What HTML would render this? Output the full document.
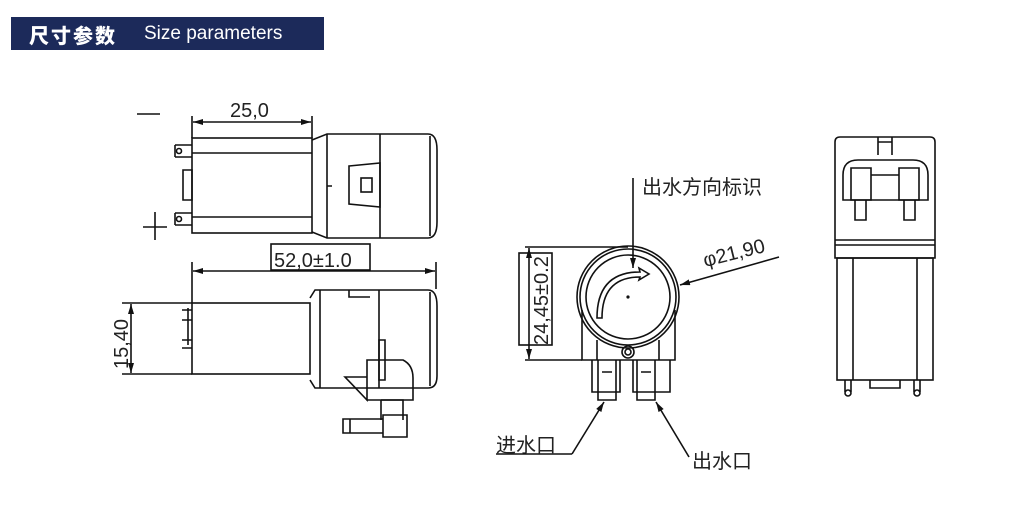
<!DOCTYPE html>
<html><head><meta charset="utf-8"><style>
body{margin:0;background:#fff;width:1027px;height:519px;overflow:hidden;position:relative;font-family:"Liberation Sans","Noto Sans CJK SC",sans-serif}
.hdr{position:absolute;left:11px;top:17px;width:313px;height:33px;background:#1c2a5a;color:#fff;}
.hdr b{position:absolute;left:18px;top:3px;font-size:20px;font-family:"Noto Sans CJK SC",sans-serif;font-weight:900;letter-spacing:2px}
.hdr span{position:absolute;left:133px;top:6px;font-size:19px}
svg{position:absolute;left:0;top:0}
</style></head><body>
<div class="hdr"><b>尺寸参数</b><span>Size parameters</span></div>
<svg width="1027" height="519" viewBox="0 0 1027 519" fill="none" stroke="#111" stroke-width="1.6">
<defs><marker id="a" viewBox="0 0 10 6" refX="10" refY="3" markerWidth="10" markerHeight="6" orient="auto-start-reverse" markerUnits="userSpaceOnUse"><path d="M0,0L10,3L0,6z" fill="#111" stroke="none"/></marker></defs>
<g font-family="Liberation Sans,sans-serif" font-size="20" fill="#222" stroke="none">
<text x="230" y="117">25,0</text>
<text x="274" y="267">52,0±1.0</text>
<text transform="translate(128,369) rotate(-90)">15,40</text>
<text transform="translate(548,345) rotate(-90)">24,45±0.2</text>
<text x="705" y="267" transform="rotate(-14 705 267)">φ21,90</text>
</g>
<g font-family="Noto Sans CJK SC,sans-serif" font-size="20" fill="#222" stroke="none">
<text x="642" y="194">出水方向标识</text>
<text x="496" y="452">进水口</text>
<text x="692" y="468">出水口</text>
</g>
<!-- top view -->
<path d="M137,114H160M155,212V240M143,227H167"/>
<line x1="192" y1="116" x2="192" y2="138"/><line x1="312" y1="116" x2="312" y2="138"/>
<line x1="193" y1="122" x2="311" y2="122" marker-start="url(#a)" marker-end="url(#a)"/>
<rect x="192" y="138" width="120" height="95"/>
<path d="M192,153H312M192,217H312"/>
<path d="M175,145H192M175,157H192M175,145V157M175,213H192M175,225H192M175,213V225M183,170H192V200H183z"/>
<circle cx="179" cy="151" r="2.5"/><circle cx="179" cy="219" r="2.5"/>
<path d="M312,140L327,134H428Q437,134 437,150V222Q437,238 428,238H327L312,232"/>
<path d="M327,134V238M380,134V238M430,136V236M327,186H332"/>
<path d="M349,166L380,163V207L349,204z"/><rect x="361" y="178" width="11" height="14"/>
<!-- side view -->
<line x1="192" y1="262" x2="192" y2="303"/><line x1="436" y1="262" x2="436" y2="289"/>
<rect x="271" y="244" width="99" height="26"/>
<line x1="193" y1="271" x2="435" y2="271" marker-start="url(#a)" marker-end="url(#a)"/>
<rect x="192" y="303" width="118" height="71"/>
<path d="M122,303H192M122,374H192"/>
<line x1="131" y1="304" x2="131" y2="373" marker-start="url(#a)" marker-end="url(#a)"/>
<path d="M182,310H192M182,320H192M182,340H192M182,348H192M188,308V345"/>
<path d="M310,298L315,290H428Q437,290 437,306V376Q437,388 428,388H315L310,380"/>
<path d="M320,290V388M379,290V388M430,292V386M349,290V297H370"/>
<path d="M367,360H403Q413,365 413,378V400H367z M379,340H385V380H379z M345,377L367,377L367,400z"/>
<path d="M381,400H403V420M381,400V420M383,415H407V437H383z M343,419H383V433H343z M350,419V433"/>
<!-- middle view -->
<circle cx="628" cy="297" r="51"/><circle cx="628" cy="297" r="48"/><circle cx="628" cy="297" r="42"/>
<path d="M582,310V360H675V310M597,340V360M659,340V360"/>
<circle cx="628" cy="352" r="6"/><circle cx="628" cy="352" r="3"/>
<path d="M592,360V392H620V360M598,360V400H616V360M637,360V400H655V360M633,360V392H670V360M602,372H612M641,372H651"/>
<path d="M597,318Q597,272 640,272L639,268L649,274L639,280L640,277Q602,277 602,318z"/>
<circle cx="628" cy="297" r="0.8" fill="#111"/>
<path d="M525,247H628M525,360H582"/>
<rect x="519" y="253" width="33" height="92"/>
<line x1="529" y1="248" x2="529" y2="359" marker-start="url(#a)" marker-end="url(#a)"/>
<line x1="633" y1="178" x2="633" y2="268" marker-end="url(#a)"/>
<line x1="779" y1="257" x2="680" y2="285" marker-end="url(#a)"/>
<path d="M496,454H572"/><line x1="572" y1="454" x2="604" y2="402" marker-end="url(#a)"/>
<line x1="689" y1="457" x2="656" y2="402" marker-end="url(#a)"/>
<!-- right view -->
<path d="M835,142Q835,137 840,137H930Q935,137 935,142V258H835z"/>
<path d="M835,240H935M835,245H935M878,137V155M892,137V155M878,142H892"/>
<path d="M843,175Q843,160 858,160H913Q928,160 928,175V200H843z"/>
<path d="M851,168H871V200H851zM899,168H919V200H899zM855,200V220H866V200M904,200V220H915V200M871,175H899"/>
<rect x="837" y="258" width="96" height="122"/>
<path d="M853,258V380M917,258V380M870,380V388H900V380M845,380V392M851,380V392M914,380V392M920,380V392"/>
<circle cx="848" cy="393" r="3"/><circle cx="917" cy="393" r="3"/>
</svg>
</body></html>
